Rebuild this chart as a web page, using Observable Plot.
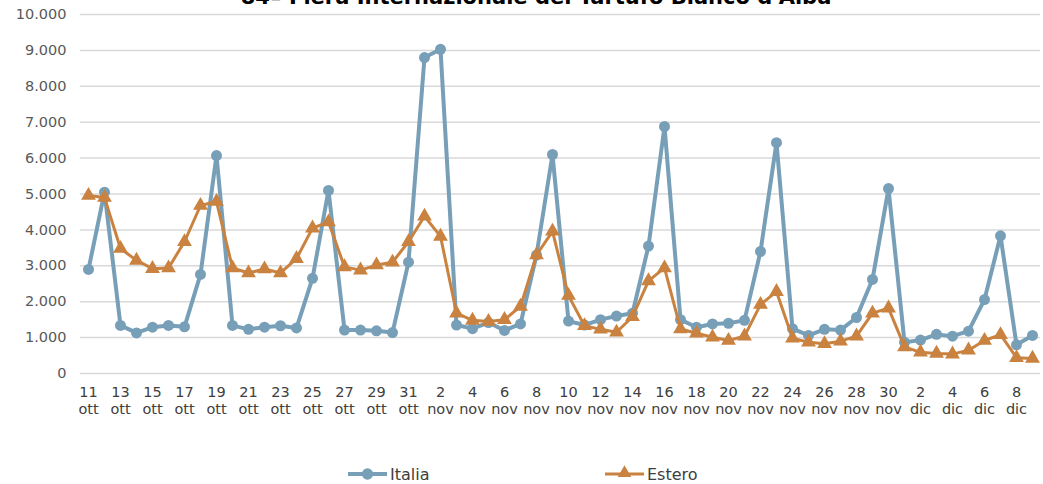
<!DOCTYPE html>
<html>
<head>
<meta charset="utf-8">
<script src="https://cdn.jsdelivr.net/npm/d3@7"></script>
<script src="https://cdn.jsdelivr.net/npm/@observablehq/plot@0.6"></script>
<style>
  html, body { margin: 0; padding: 0; background: #fff; }
  body { width: 1043px; height: 484px; position: relative; overflow: hidden; font-family: "DejaVu Sans", sans-serif; }
  #title { position: absolute; left: 0; width: 1072px; text-align: center; top: -15px; font-weight: bold; font-size: 21px; line-height: 24px; color: #000; white-space: nowrap; z-index: 2; }
  #chart { position: absolute; left: 0; top: 0; z-index: 1; }
  #legend { position: absolute; left: 0; top: 440px; width: 1043px; height: 44px; }
</style>
</head>
<body>
<div id="title">84ª Fiera Internazionale del Tartufo Bianco d'Alba</div>
<div id="chart"></div>
<svg id="legend" width="1043" height="44"></svg>
<script>
const days = [
  "11 ott","12 ott","13 ott","14 ott","15 ott","16 ott","17 ott","18 ott","19 ott","20 ott",
  "21 ott","22 ott","23 ott","24 ott","25 ott","26 ott","27 ott","28 ott","29 ott","30 ott","31 ott",
  "1 nov","2 nov","3 nov","4 nov","5 nov","6 nov","7 nov","8 nov","9 nov","10 nov",
  "11 nov","12 nov","13 nov","14 nov","15 nov","16 nov","17 nov","18 nov","19 nov","20 nov",
  "21 nov","22 nov","23 nov","24 nov","25 nov","26 nov","27 nov","28 nov","29 nov","30 nov",
  "1 dic","2 dic","3 dic","4 dic","5 dic","6 dic","7 dic","8 dic","9 dic"
];
const italia = [
  2900, 5050, 1340, 1130, 1290, 1340, 1300, 2760, 6070, 1340,
  1230, 1290, 1330, 1270, 2650, 5100, 1210, 1210, 1190, 1140, 3100,
  8800, 9030, 1350, 1250, 1420, 1200, 1380, 3300, 6100, 1460,
  1350, 1500, 1600, 1680, 3550, 6880, 1500, 1290, 1380, 1400,
  1480, 3400, 6430, 1250, 1060, 1230, 1210, 1560, 2620, 5150,
  870, 930, 1090, 1040, 1180, 2060, 3835, 800, 1060
];
const estero = [
  4960, 4900, 3480, 3150, 2920, 2940, 3670, 4680, 4790, 2940,
  2800, 2910, 2800, 3200, 4050, 4220, 2970, 2880, 3020, 3100, 3670,
  4380, 3820, 1680, 1480, 1450, 1500, 1870, 3300, 3960, 2170,
  1330, 1230, 1150, 1580, 2580, 2940, 1240, 1120, 1010, 920,
  1040, 1920, 2280, 980, 870, 830, 900, 1040, 1680, 1820,
  740, 590, 560, 540, 650, 920, 1080, 440, 420
];
const seriesNames = ["Italia", "Estero"];
const yTicks = [0, 1000, 2000, 3000, 4000, 5000, 6000, 7000, 8000, 9000, 10000];

const colItalia = "#789fb8";
const colEstero = "#c9823f";

const dataI = days.map((d, i) => ({day: d, v: italia[i]}));
const dataE = days.map((d, i) => ({day: d, v: estero[i]}));
const xTicks = days.filter((d, i) => i % 2 === 0);

const fmt = d => d3.format(",")(d).replace(/,/g, ".");

const chart = Plot.plot({
  width: 1043,
  height: 440,
  marginTop: 14,
  marginBottom: 67,
  marginLeft: 80,
  marginRight: 3,
  style: { fontFamily: "DejaVu Sans, sans-serif", fontSize: "14.5px", color: "#595959", background: "transparent" },
  x: { type: "point", domain: days, padding: 0.5, label: null },
  y: { domain: [0, 10000], label: null },
  marks: [
    Plot.gridY(yTicks, { stroke: "#d9d9d9", strokeOpacity: 1, strokeWidth: 1.5 }),
    Plot.axisY(yTicks, { tickSize: 0, tickPadding: 14, tickFormat: fmt, fill: "#595959", fontSize: 14.5 }),
    Plot.axisX(xTicks, { tickSize: 0, tickPadding: 12, tickFormat: d => d.replace(" ", "\n"), lineHeight: 1.15, fill: "#404040", fontSize: 14.5 }),
    Plot.line(dataI, { x: "day", y: "v", stroke: colItalia, strokeWidth: 4 }),
    Plot.dot(dataI, { x: "day", y: "v", r: 5.5, fill: colItalia, stroke: "none" }),
    Plot.line(dataE, { x: "day", y: "v", stroke: colEstero, strokeWidth: 3 }),
    Plot.dot(dataE, { x: "day", y: "v", symbol: "triangle", r: 5.5, fill: colEstero, stroke: "none" })
  ]
});
document.getElementById("chart").appendChild(chart);

// legend
const leg = d3.select("#legend");
const items = [
  { name: seriesNames[0], color: colItalia, x: 348, sym: "circle", w: 4 },
  { name: seriesNames[1], color: colEstero, x: 605, sym: "triangle", w: 3 }
];
items.forEach(it => {
  const g = leg.append("g");
  g.append("line").attr("x1", it.x).attr("x2", it.x + 39).attr("y1", 34).attr("y2", 34)
    .attr("stroke", it.color).attr("stroke-width", it.w);
  g.append("path").attr("d", d3.symbol(it.sym === "circle" ? d3.symbolCircle : d3.symbolTriangle, it.sym === "circle" ? 100 : 80)())
    .attr("transform", `translate(${it.x + 19.5},${it.sym === "circle" ? 34 : 33})`).attr("fill", it.color);
  g.append("text").attr("x", it.x + 42).attr("y", 39.5).text(it.name)
    .attr("font-family", "DejaVu Sans, sans-serif").attr("font-size", 16).attr("fill", "#404040");
});
</script>
</body>
</html>
